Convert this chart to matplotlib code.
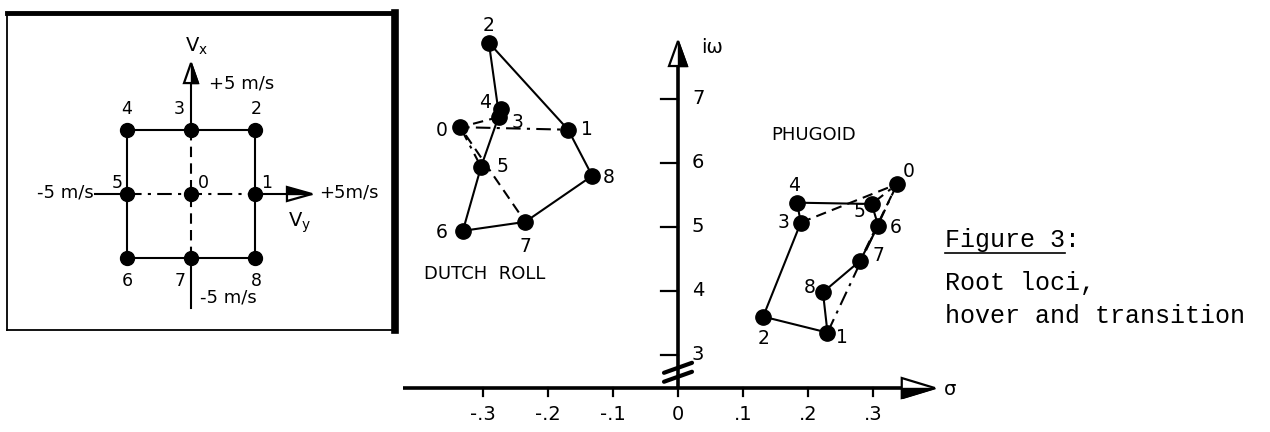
import matplotlib
matplotlib.use('Agg')
import matplotlib.pyplot as plt
from matplotlib.patches import Polygon
from matplotlib.lines import Line2D

# Hover grid of wind components (m/s), points numbered 0..8
grid_vy = [0, 5, 5, 0, -5, -5, -5, 0, 5]
grid_vx = [0, 0, 5, 5, 5, 0, -5, -5, -5]

# Dutch roll roots for each grid point
dutch_sigma = [-0.335, -0.169, -0.291, -0.275, -0.272, -0.303, -0.331, -0.235, -0.132]
dutch_omega = [6.56, 6.52, 7.88, 6.72, 6.84, 5.94, 4.94, 5.08, 5.80]

# Phugoid roots for each grid point
phug_sigma = [0.337, 0.230, 0.131, 0.189, 0.183, 0.298, 0.308, 0.280, 0.223]
phug_omega = [5.67, 3.35, 3.60, 5.07, 5.38, 5.36, 5.02, 4.47, 3.98]

# Which points are joined, and how
outer_path = [4, 3, 2, 1, 8, 7, 6, 5, 4]
vx_path = [3, 0, 7]
vy_path = [5, 0, 1]

sigma_ticks = [-0.3, -0.2, -0.1, 0.0, 0.1, 0.2, 0.3]
sigma_labels = ['-.3', '-.2', '-.1', '0', '.1', '.2', '.3']
omega_ticks = [3, 4, 5, 6, 7]

W, H = 1270, 432
PX_S, PX_W = 650.0, 64.0     # pixels per unit of sigma and omega
PX_G = 12.8                  # pixels per m/s in the grid sketch

plt.rcParams['font.family'] = ['DejaVu Sans']
fig = plt.figure(figsize=(W / 100, H / 100), dpi=100)
fig.patch.set_facecolor('white')


def arrow_head(ax, tip, direction, length, half, fill_side, sx, sy, zorder=5):
    tx, ty = tip
    if direction == 'right':
        L, B = length / sx, half / sy
        tri = [(tx, ty), (tx - L, ty + B), (tx - L, ty - B)]
        if fill_side == 'lower':
            part = [(tx, ty), (tx - L, ty), (tx - L, ty - B)]
        else:
            part = [(tx, ty), (tx - L, ty), (tx - L, ty + B)]
    else:
        L, B = length / sy, half / sx
        tri = [(tx, ty), (tx - B, ty - L), (tx + B, ty - L)]
        part = [(tx, ty), (tx, ty - L), (tx + B, ty - L)]
    ax.add_patch(Polygon(tri, closed=True, facecolor='white', edgecolor='black',
                         lw=1.6, zorder=zorder, joinstyle='miter'))
    ax.add_patch(Polygon(part, closed=True, facecolor='black', edgecolor='black',
                         lw=1.0, zorder=zorder + 1))
    return L


def draw_locus(ax, xs, ys, ms, lw):
    ax.plot([xs[i] for i in outer_path], [ys[i] for i in outer_path],
            color='black', lw=lw, zorder=3)
    ax.plot([xs[i] for i in vx_path], [ys[i] for i in vx_path],
            color='black', lw=lw, ls=(0, (5, 3)), zorder=3)
    ax.plot([xs[i] for i in vy_path], [ys[i] for i in vy_path],
            color='black', lw=lw, ls=(0, (7, 3, 1.5, 3)), zorder=3)
    ax.plot(xs, ys, 'o', color='black', ms=ms, zorder=4)


def number_points(ax, xs, ys, offsets, size):
    for i, (x, y) in enumerate(zip(xs, ys)):
        ax.annotate(str(i), (x, y), xytext=offsets[i], textcoords='offset pixels',
                    ha='center', va='center', fontsize=size, zorder=6)


# ---- root locus plane -------------------------------------------------
ax = fig.add_axes([0, 0, 1, 1])
ax.set_xlim(-678 / PX_S, (W - 678) / PX_S)
ax.set_ylim(7 - (H - 99) / PX_W, 7 + 99 / PX_W)
ax.axis('off')

axis_y = 7 - (388 - 99) / PX_W      # sigma axis sits below the break
sig_tip, om_tip = 0.395, 7.906

L = arrow_head(ax, (sig_tip, axis_y), 'right', 33, 10, 'lower', PX_S, PX_W)
ax.plot([-0.423, sig_tip - L], [axis_y, axis_y], color='black', lw=2.6,
        solid_capstyle='butt')
L = arrow_head(ax, (0, om_tip), 'up', 25, 9, 'right', PX_S, PX_W)
ax.plot([0, 0], [axis_y, om_tip - L], color='black', lw=2.6,
        solid_capstyle='butt')

# axis break
for yb in (2.80, 2.66):
    ax.plot([-14 / PX_S, 14 / PX_S], [yb - 5 / PX_W, yb + 5 / PX_W],
            color='black', lw=3, solid_capstyle='round')

for s, lab in zip(sigma_ticks, sigma_labels):
    ax.plot([s, s], [axis_y, axis_y - 8 / PX_W], color='black', lw=1.6)
    ax.text(s, axis_y - 26 / PX_W, lab, ha='center', va='center', fontsize=14)
for w in omega_ticks:
    ax.plot([-17 / PX_S, 0], [w, w], color='black', lw=1.6)
    ax.text(14 / PX_S, w, str(w), ha='left', va='center', fontsize=14)

ax.text(0.052, 7.81, 'iω', ha='center', va='center', fontsize=14)
ax.text(0.418, axis_y - 0.03, 'σ', ha='center', va='center', fontsize=14)

draw_locus(ax, dutch_sigma, dutch_omega, 11, 1.5)
draw_locus(ax, phug_sigma, phug_omega, 11, 1.5)

dutch_off = [(-19, -3), (19, 0), (0, 17), (18, -6), (-16, 7),
             (21, 0), (-21, -2), (0, -25), (16, -2)]
phug_off = [(12, 13), (14, -5), (0, -22), (-17, 0), (-3, 17),
            (-12, -8), (17, -2), (18, 5), (-13, 5)]
number_points(ax, dutch_sigma, dutch_omega, dutch_off, 13.5)
number_points(ax, phug_sigma, phug_omega, phug_off, 13.5)

ax.text(-0.39, 4.27, 'DUTCH  ROLL', ha='left', va='center', fontsize=13)
ax.text(0.208, 6.44, 'PHUGOID', ha='center', va='center', fontsize=13)

# ---- hover grid sketch ------------------------------------------------
axi = fig.add_axes([7 / W, (H - 330) / H, 388 / W, 317 / H], zorder=3)
axi.set_xlim((7 - 191) / PX_G, (395 - 191) / PX_G)
axi.set_ylim((194 - 330) / PX_G, (194 - 13) / PX_G)
axi.set_xticks([])
axi.set_yticks([])
axi.spines['top'].set_linewidth(3.5)
axi.spines['right'].set_linewidth(5.5)
axi.spines['left'].set_linewidth(1.3)
axi.spines['bottom'].set_linewidth(1.3)

gmax = max(grid_vx)
vx_tip, vy_tip = 10.23, 9.45
L = arrow_head(axi, (0, vx_tip), 'up', 20, 7, 'right', PX_G, PX_G)
axi.plot([0, 0], [gmax, vx_tip - L], color='black', lw=1.5)
axi.plot([0, 0], [-8.9, -gmax], color='black', lw=1.5)
L = arrow_head(axi, (vy_tip, 0), 'right', 25, 7, 'upper', PX_G, PX_G)
axi.plot([gmax, vy_tip - L], [0, 0], color='black', lw=1.5)
axi.plot([-7.5, -gmax], [0, 0], color='black', lw=1.5)

draw_locus(axi, grid_vy, grid_vx, 10, 1.5)
grid_off = [(12, 11), (12, 11), (1, 21), (-12, 21), (0, 21),
            (-10, 11), (0, -23), (-11, -23), (1, -23)]
number_points(axi, grid_vy, grid_vx, grid_off, 12.5)

axi.text(0.47, 11.5, r'$\mathregular{V_x}$', ha='center', va='center', fontsize=14)
axi.text(8.5, -2.27, r'$\mathregular{V_y}$', ha='center', va='center', fontsize=14)
axi.text(1.4, 8.67, '+5 m/s', ha='left', va='center', fontsize=13)
axi.text(0.7, -8.1, '-5 m/s', ha='left', va='center', fontsize=13)
axi.text(-7.6, 0.1, '-5 m/s', ha='right', va='center', fontsize=13)
axi.text(10.0, 0.15, '+5m/s', ha='left', va='center', fontsize=13)

# ---- caption ----------------------------------------------------------
mono = 'Liberation Mono'
cx = 945 / W
fig.text(cx, 1 - 240 / H, 'Figure 3:', family=mono, fontsize=18, va='center')
char_w = 18 * 100 / 72 * 0.6
fig.add_artist(Line2D([cx, cx + 8 * char_w / W], [1 - 253 / H, 1 - 253 / H],
                      transform=fig.transFigure, color='black', lw=1.2))
fig.text(cx, 1 - 283 / H, 'Root loci,', family=mono, fontsize=18, va='center')
fig.text(cx, 1 - 316 / H, 'hover and transition', family=mono, fontsize=18,
         va='center')

fig.savefig('out.png', dpi=100, facecolor='white')
